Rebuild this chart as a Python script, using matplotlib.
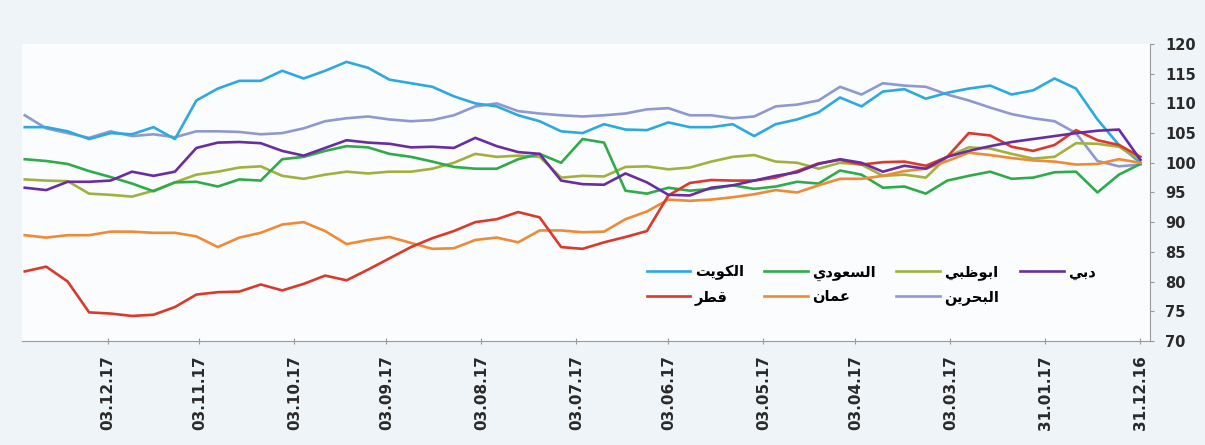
import matplotlib
matplotlib.use("Agg")
import matplotlib.pyplot as plt
import matplotlib.dates as mdates
import pandas as pd

# weekly closes, 31.12.16 -> 30.12.17 (index, base 100)
dates = pd.date_range("2016-12-31", periods=53, freq="7D")

kuwait = [100, 103, 107.3, 112.5, 114.2, 112.2, 111.5, 113, 112.5, 111.8, 110.8, 112.4, 112,
          109.5, 111, 108.5, 107.3, 106.5, 104.5, 106.5, 106, 106, 106.8, 105.5, 105.6, 106.5,
          105, 105.3, 107, 108, 109.5, 110, 111.2, 112.8, 113.4, 114, 116, 117, 115.5, 114.2,
          115.5, 113.8, 113.8, 112.5, 110.5, 104, 106, 104.8, 105, 104, 105.3, 106, 106]
saudi = [99.8, 98, 95, 98.5, 98.4, 97.5, 97.3, 98.5, 97.8, 97, 94.8, 96, 95.8, 98, 98.7, 96.5,
         96.8, 96, 95.6, 96.2, 95.6, 95.3, 95.8, 94.8, 95.3, 103.4, 104, 100, 101.5, 100.6, 99,
         99, 99.3, 100.2, 101, 101.5, 102.6, 102.8, 102, 101, 100.6, 97, 97.2, 96, 96.8, 96.7,
         95.2, 96.5, 97.6, 98.6, 99.8, 100.3, 100.6]
abudhabi = [100.5, 102.7, 103.2, 103.3, 101, 100.7, 101.5, 102.4, 102.6, 101, 97.5, 98, 97.8,
            99.7, 100, 99, 100, 100.2, 101.3, 101, 100.2, 99.2, 98.9, 99.4, 99.3, 97.7, 97.8,
            97.5, 101, 101.2, 101, 101.5, 100, 99, 98.5, 98.5, 98.2, 98.5, 98, 97.3, 97.8, 99.4,
            99.2, 98.5, 98, 96.7, 95.3, 94.3, 94.6, 94.8, 96.9, 97, 97.2]
dubai = [100.5, 105.6, 105.4, 105, 104.5, 104, 103.5, 102.8, 102, 101, 99, 99.5, 98.5, 100,
         100.6, 99.8, 98.4, 97.8, 97, 96.2, 95.8, 94.5, 94.6, 96.7, 98.2, 96.3, 96.4, 97, 101.5,
         101.8, 102.8, 104.2, 102.5, 102.7, 102.6, 103.2, 103.4, 103.8, 102.5, 101.2, 102, 103.3,
         103.5, 103.4, 102.5, 98.5, 97.8, 98.5, 97, 96.8, 96.8, 95.4, 95.8]
qatar = [101, 103, 103.8, 105.5, 103, 102, 102.7, 104.6, 105, 101, 99.5, 100.2, 100.1, 99.7,
         100.5, 99.9, 98.6, 97.5, 97, 97, 97.1, 96.6, 94.5, 88.5, 87.5, 86.6, 85.5, 85.8, 90.8,
         91.7, 90.5, 90, 88.5, 87.3, 85.8, 83.9, 82, 80.2, 81, 79.6, 78.5, 79.5, 78.3, 78.2, 77.8,
         75.7, 74.4, 74.2, 74.6, 74.8, 80, 82.5, 81.7]
oman = [100, 100.6, 99.8, 99.7, 100.2, 100.4, 100.8, 101.3, 101.7, 100.3, 99, 98.6, 97.8, 97.3,
        97.3, 96.2, 95, 95.4, 94.7, 94.2, 93.8, 93.6, 93.8, 91.8, 90.5, 88.4, 88.3, 88.6, 88.6,
        86.6, 87.4, 87, 85.6, 85.5, 86.5, 87.5, 87, 86.3, 88.5, 90, 89.6, 88.2, 87.4, 85.8, 87.6,
        88.2, 88.2, 88.4, 88.4, 87.8, 87.8, 87.4, 87.8]
bahrain = [99.7, 99.4, 100.3, 105, 107, 107.5, 108.2, 109.3, 110.5, 111.5, 112.8, 113, 113.4,
           111.5, 112.8, 110.5, 109.8, 109.5, 107.8, 107.5, 108, 108, 109.2, 109, 108.3, 108,
           107.8, 108, 108.3, 108.7, 110, 109.5, 108, 107.2, 107, 107.3, 107.8, 107.5, 107, 105.8,
           105, 104.8, 105.2, 105.3, 105.3, 104.3, 104.8, 104.5, 105.3, 104.2, 105, 105.8, 108]

names = ["الكويت", "السعودي", "ابوظبي", "دبي", "قطر", "عمان", "البحرين"]
tick_dates = ["2016-12-31", "2017-01-31", "2017-03-03", "2017-04-03", "2017-05-03", "2017-06-03",
              "2017-07-03", "2017-08-03", "2017-09-03", "2017-10-03", "2017-11-03", "2017-12-03"]

# Arabic presentation forms (isolated, final, initial, medial)
FORMS = {
    "ا": ("\ufe8d", "\ufe8e", None, None),
    "ب": ("\ufe8f", "\ufe90", "\ufe91", "\ufe92"),
    "ت": ("\ufe95", "\ufe96", "\ufe97", "\ufe98"),
    "ح": ("\ufea1", "\ufea2", "\ufea3", "\ufea4"),
    "د": ("\ufea9", "\ufeaa", None, None),
    "ر": ("\ufead", "\ufeae", None, None),
    "س": ("\ufeb1", "\ufeb2", "\ufeb3", "\ufeb4"),
    "ط": ("\ufec1", "\ufec2", "\ufec3", "\ufec4"),
    "ظ": ("\ufec5", "\ufec6", "\ufec7", "\ufec8"),
    "ع": ("\ufec9", "\ufeca", "\ufecb", "\ufecc"),
    "ق": ("\ufed5", "\ufed6", "\ufed7", "\ufed8"),
    "ك": ("\ufed9", "\ufeda", "\ufedb", "\ufedc"),
    "ل": ("\ufedd", "\ufede", "\ufedf", "\ufee0"),
    "م": ("\ufee1", "\ufee2", "\ufee3", "\ufee4"),
    "ن": ("\ufee5", "\ufee6", "\ufee7", "\ufee8"),
    "و": ("\ufeed", "\ufeee", None, None),
    "ي": ("\ufef1", "\ufef2", "\ufef3", "\ufef4"),
}


def shape(word):
    # join letters and flip to visual order (matplotlib has no bidi)
    out = []
    for i, ch in enumerate(word):
        iso, fin, ini, med = FORMS[ch]
        prev_j = i > 0 and FORMS[word[i - 1]][2] is not None
        next_j = i < len(word) - 1 and ini is not None
        if prev_j and next_j:
            out.append(med)
        elif prev_j:
            out.append(fin)
        elif next_j:
            out.append(ini)
        else:
            out.append(iso)
    return "".join(reversed(out))


colors = {"الكويت": "#2ea9df", "السعودي": "#2fab49", "ابوظبي": "#a2b13c", "دبي": "#6a2d9f",
          "قطر": "#d93a2c", "عمان": "#ef8a35", "البحرين": "#8f99cf"}
series = {"الكويت": kuwait, "السعودي": saudi, "ابوظبي": abudhabi, "دبي": dubai,
          "قطر": qatar, "عمان": oman, "البحرين": bahrain}

fig = plt.figure(figsize=(12.05, 4.45), dpi=100, facecolor="#eef4f8")
ax = fig.add_axes([0.018, 0.234, 0.936, 0.667], facecolor="#fafcfd")

lines = {}
for n in ["البحرين", "الكويت", "ابوظبي", "السعودي", "عمان", "قطر", "دبي"]:
    lines[n], = ax.plot(dates, series[n], color=colors[n], lw=1.9, label=shape(n))

ax.set_ylim(70, 120)
ax.set_yticks(range(70, 121, 5))
ax.yaxis.tick_right()
ax.set_xlim(pd.Timestamp("2017-12-31"), pd.Timestamp("2016-12-28"))
ax.set_xticks(pd.to_datetime(tick_dates))
ax.xaxis.set_major_formatter(mdates.DateFormatter("%d.%m.%y"))
for s in ["left", "top"]:
    ax.spines[s].set_visible(False)
for s in ["right", "bottom"]:
    ax.spines[s].set_color("#9a9a9a")
ax.tick_params(axis="x", rotation=90, labelsize=11, colors="#9a9a9a", labelcolor="#2a2a2a",
               direction="inout", length=5, pad=8)
ax.tick_params(axis="y", labelsize=10.5, colors="#9a9a9a", labelcolor="#2a2a2a", length=3, pad=8)
for lab in ax.get_xticklabels() + ax.get_yticklabels():
    lab.set_fontweight("bold")

order = ["الكويت", "قطر", "السعودي", "عمان", "ابوظبي", "البحرين", "دبي"]
ax.legend([lines[n] for n in order], [shape(n) for n in order], ncol=4, frameon=False,
          loc="center", bbox_to_anchor=(0.723, 0.36), bbox_transform=fig.transFigure,
          prop={"family": ["DejaVu Sans"], "weight": "bold", "size": 10.5},
          handlelength=3.0, handletextpad=0.3, columnspacing=1.4, labelspacing=0.6)

fig.savefig("out.png", dpi=100, facecolor=fig.get_facecolor())
